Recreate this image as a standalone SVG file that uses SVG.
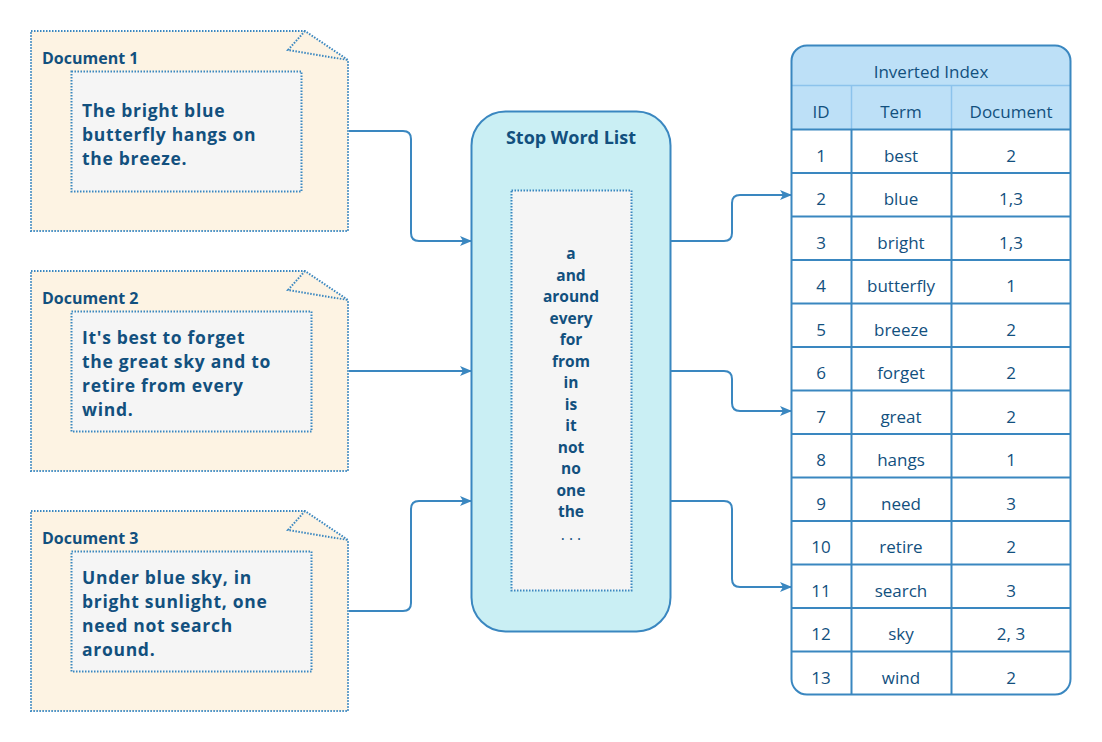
<svg xmlns="http://www.w3.org/2000/svg" width="1102" height="742" viewBox="0 0 1102 742">
<defs>
<style>
.doc{fill:#FDF3E3;stroke:#3A87C0;stroke-width:2;stroke-dasharray:1.5 1.5}
.inner{fill:#F5F5F5;stroke:#3A87C0;stroke-width:2;stroke-dasharray:1.5 1.5}
.fold{fill:none;stroke:#3A87C0;stroke-width:2;stroke-dasharray:1.5 1.5}
.title{font-family:"Open Sans","Liberation Sans",sans-serif;font-weight:bold;font-size:16px;fill:#12507E}
.body{font-family:"Open Sans","Liberation Sans",sans-serif;font-weight:bold;font-size:17.5px;letter-spacing:0.7px;fill:#12507E}
.sw{font-family:"Open Sans","Liberation Sans",sans-serif;font-weight:bold;font-size:15.5px;fill:#12507E;text-anchor:middle}
.swt{font-family:"Open Sans","Liberation Sans",sans-serif;font-weight:bold;font-size:18px;fill:#12507E;text-anchor:middle}
.tt{font-family:"Open Sans","Liberation Sans",sans-serif;font-size:17px;fill:#12507E;text-anchor:middle}
.conn{fill:none;stroke:#3A87C0;stroke-width:2}
.grid{stroke:#3A87C0;stroke-width:2;fill:none}
.hgrid{stroke:#8CC3EC;stroke-width:1.5;fill:none}
</style>
<marker id="arr" markerUnits="userSpaceOnUse" markerWidth="14" markerHeight="14" viewBox="0 0 14 14" refX="12" refY="7" orient="auto">
<path d="M1,2 L13,7 L1,12 L4,7 Z" fill="#3A87C0"/>
</marker>
</defs>

<g id="doc1">
<path class="doc" d="M31,31 H305 L348,60 V231 H31 Z"/>
<path class="fold" d="M305,31 L288,50 L348,60"/>
<text class="title" x="42" y="64">Document 1</text>
<rect class="inner" x="71.5" y="71.5" width="230" height="120"/>
<text class="body" x="82" y="117">The bright blue</text>
<text class="body" x="82" y="141">butterfly hangs on</text>
<text class="body" x="82" y="165">the breeze.</text>
</g>

<g id="doc2">
<path class="doc" d="M31,271 H305 L348,300 V471 H31 Z"/>
<path class="fold" d="M305,271 L288,290 L348,300"/>
<text class="title" x="42" y="304">Document 2</text>
<rect class="inner" x="71.5" y="311.5" width="240" height="120"/>
<text class="body" x="82" y="344">It's best to forget</text>
<text class="body" x="82" y="368">the great sky and to</text>
<text class="body" x="82" y="392">retire from every</text>
<text class="body" x="82" y="416">wind.</text>
</g>

<g id="doc3">
<path class="doc" d="M31,511 H305 L348,540 V711 H31 Z"/>
<path class="fold" d="M305,511 L288,530 L348,540"/>
<text class="title" x="42" y="544">Document 3</text>
<rect class="inner" x="71.5" y="551.5" width="240" height="120"/>
<text class="body" x="82" y="584">Under blue sky, in</text>
<text class="body" x="82" y="608">bright sunlight, one</text>
<text class="body" x="82" y="632">need not search</text>
<text class="body" x="82" y="656">around.</text>
</g>

<g id="stopwords">
<rect x="471.5" y="111.5" width="199" height="520" rx="34" fill="#CAEFF4" stroke="#3A87C0" stroke-width="2"/>
<text class="swt" x="571" y="144">Stop Word List</text>
<rect class="inner" x="511.5" y="190.5" width="120" height="400"/>
<text class="sw" x="571" y="259">a</text>
<text class="sw" x="571" y="280.5">and</text>
<text class="sw" x="571" y="302">around</text>
<text class="sw" x="571" y="323.5">every</text>
<text class="sw" x="571" y="345">for</text>
<text class="sw" x="571" y="366.5">from</text>
<text class="sw" x="571" y="388">in</text>
<text class="sw" x="571" y="409.5">is</text>
<text class="sw" x="571" y="431">it</text>
<text class="sw" x="571" y="452.5">not</text>
<text class="sw" x="571" y="474">no</text>
<text class="sw" x="571" y="495.5">one</text>
<text class="sw" x="571" y="517">the</text>
<text class="sw" x="571" y="540" style="font-weight:normal">. . .</text>
</g>

<g id="index">
<path d="M791.5,129.5 V61 Q791.5,45.5 807,45.5 H1055 Q1070.5,45.5 1070.5,61 V129.5 Z" fill="#BDE0F7"/>
<path d="M791.5,129.5 H1070.5 V679 Q1070.5,694.5 1055,694.5 H807 Q791.5,694.5 791.5,679 Z" fill="#FFFFFF"/>
<line class="hgrid" x1="791.5" y1="85.5" x2="1070.5" y2="85.5"/>
<line class="hgrid" x1="851.5" y1="85.5" x2="851.5" y2="129.5"/>
<line class="hgrid" x1="951.5" y1="85.5" x2="951.5" y2="129.5"/>
<path class="grid" d="M851.5,129.5 V694.5 M951.5,129.5 V694.5 M791.5,129.5 H1070.5 M791.5,173 H1070.5 M791.5,216.5 H1070.5 M791.5,260 H1070.5 M791.5,303.5 H1070.5 M791.5,347 H1070.5 M791.5,390.5 H1070.5 M791.5,434 H1070.5 M791.5,477.5 H1070.5 M791.5,521 H1070.5 M791.5,564.5 H1070.5 M791.5,608 H1070.5 M791.5,651.5 H1070.5"/>
<rect class="grid" x="791.5" y="45.5" width="279" height="649" rx="15.5"/>
<text class="tt" x="931" y="78">Inverted Index</text>
<text class="tt" x="821" y="118">ID</text>
<text class="tt" x="901" y="118">Term</text>
<text class="tt" x="1011" y="118">Document</text>
<g class="rows">
<text class="tt" x="821" y="161.5">1</text><text class="tt" x="901" y="161.5">best</text><text class="tt" x="1011" y="161.5">2</text>
<text class="tt" x="821" y="205">2</text><text class="tt" x="901" y="205">blue</text><text class="tt" x="1011" y="205">1,3</text>
<text class="tt" x="821" y="248.5">3</text><text class="tt" x="901" y="248.5">bright</text><text class="tt" x="1011" y="248.5">1,3</text>
<text class="tt" x="821" y="292">4</text><text class="tt" x="901" y="292">butterfly</text><text class="tt" x="1011" y="292">1</text>
<text class="tt" x="821" y="335.5">5</text><text class="tt" x="901" y="335.5">breeze</text><text class="tt" x="1011" y="335.5">2</text>
<text class="tt" x="821" y="379">6</text><text class="tt" x="901" y="379">forget</text><text class="tt" x="1011" y="379">2</text>
<text class="tt" x="821" y="422.5">7</text><text class="tt" x="901" y="422.5">great</text><text class="tt" x="1011" y="422.5">2</text>
<text class="tt" x="821" y="466">8</text><text class="tt" x="901" y="466">hangs</text><text class="tt" x="1011" y="466">1</text>
<text class="tt" x="821" y="509.5">9</text><text class="tt" x="901" y="509.5">need</text><text class="tt" x="1011" y="509.5">3</text>
<text class="tt" x="821" y="553">10</text><text class="tt" x="901" y="553">retire</text><text class="tt" x="1011" y="553">2</text>
<text class="tt" x="821" y="596.5">11</text><text class="tt" x="901" y="596.5">search</text><text class="tt" x="1011" y="596.5">3</text>
<text class="tt" x="821" y="640">12</text><text class="tt" x="901" y="640">sky</text><text class="tt" x="1011" y="640">2, 3</text>
<text class="tt" x="821" y="683.5">13</text><text class="tt" x="901" y="683.5">wind</text><text class="tt" x="1011" y="683.5">2</text>
</g>
</g>

<g id="connectors">
<path class="conn" marker-end="url(#arr)" d="M349,131 H403 Q411,131 411,139 V233 Q411,241 419,241 H471"/>
<path class="conn" marker-end="url(#arr)" d="M349,371 H471"/>
<path class="conn" marker-end="url(#arr)" d="M349,611 H403 Q411,611 411,603 V509 Q411,501 419,501 H471"/>
<path class="conn" marker-end="url(#arr)" d="M671,241 H724 Q732,241 732,233 V203 Q732,195 740,195 H791"/>
<path class="conn" marker-end="url(#arr)" d="M671,371 H724 Q732,371 732,379 V403 Q732,411 740,411 H791"/>
<path class="conn" marker-end="url(#arr)" d="M671,501 H724 Q732,501 732,509 V579 Q732,587 740,587 H791"/>
</g>
</svg>
